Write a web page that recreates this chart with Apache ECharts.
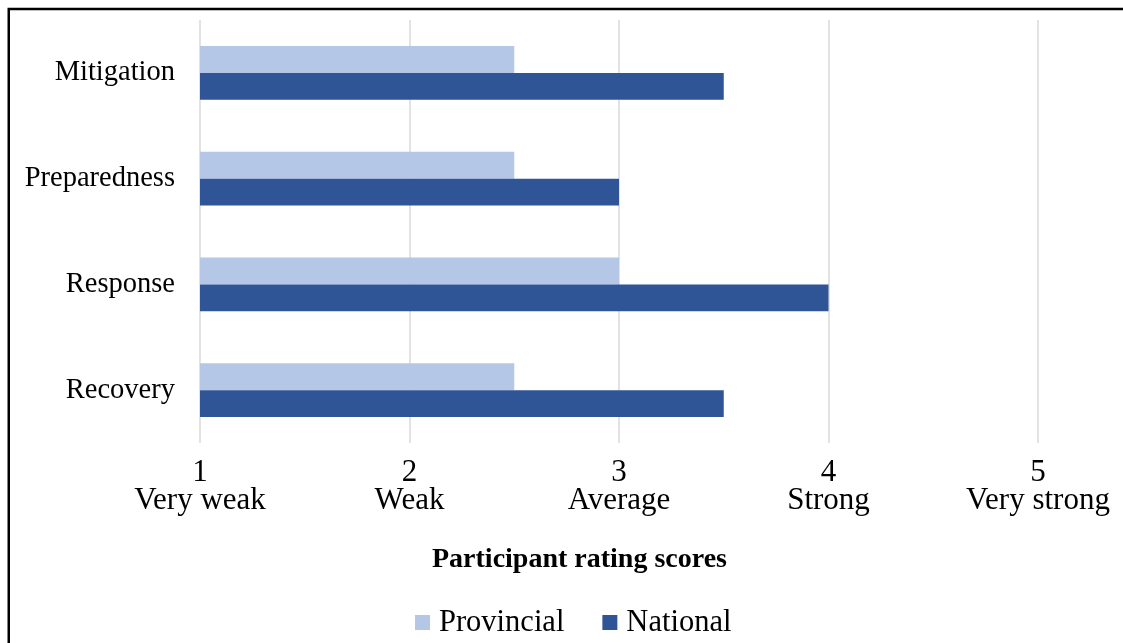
<!DOCTYPE html>
<html>
<head>
<meta charset="utf-8">
<script src="https://cdn.jsdelivr.net/npm/echarts@6/dist/echarts.min.js"></script>
<style>
  html, body { margin: 0; padding: 0; background: #fff; }
  #chart { width: 1123px; height: 643px; }
</style>
</head>
<body>
<div id="chart"></div>
<script>
// Disaster-management phases and participant ratings (1 = very weak … 5 = very strong)
const categories = ['Mitigation', 'Preparedness', 'Response', 'Recovery'];
const provincial = [2.5, 2.5, 3.0, 2.5];
const national = [3.5, 3.0, 4.0, 3.5];
const scoreValues = [1, 2, 3, 4, 5];
const scoreNames = ['Very weak', 'Weak', 'Average', 'Strong', 'Very strong'];
const axisTitle = 'Participant rating scores';

const serif = '"Liberation Serif", "Times New Roman", serif';

const chart = echarts.init(document.getElementById('chart'), null, { renderer: 'canvas' });

chart.setOption({
  backgroundColor: '#ffffff',
  animation: false,
  grid: { left: 200, right: 85, top: 20, bottom: 200, containLabel: false },
  xAxis: {
    type: 'value',
    min: 1,
    max: 5,
    interval: 1,
    axisLine: { show: false },
    axisTick: { show: false },
    splitLine: { show: true, lineStyle: { color: '#d9d9d9', width: 1.5 } },
    axisLabel: {
      margin: 16,
      color: '#000',
      fontFamily: serif,
      fontSize: 31,
      lineHeight: 28,
      align: 'center',
      formatter: function (v) {
        const i = scoreValues.indexOf(v);
        return i >= 0 ? v + '\n' + scoreNames[i] : '';
      }
    }
  },
  yAxis: {
    type: 'category',
    data: categories,
    inverse: true,
    axisLine: { show: false },
    axisTick: { show: false },
    axisLabel: { margin: 25, color: '#000', fontFamily: serif, fontSize: 28.5, lineHeight: 28, verticalAlign: 'middle' }
  },
  legend: {
    data: ['Provincial', 'National'],
    left: 410,
    top: 602,
    icon: 'rect',
    itemWidth: 15,
    itemHeight: 15,
    itemGap: 38,
    textStyle: { color: '#000', fontFamily: serif, fontSize: 30.5, padding: [0, 0, 0, 4] }
  },
  graphic: [
    {
      type: 'text',
      left: 432,
      top: 546,
      style: { text: axisTitle, fill: '#000', font: 'bold 28px ' + serif }
    },
    {
      type: 'rect',
      shape: { x: 8.75, y: 9, width: 1200, height: 700 },
      style: { fill: 'none', stroke: '#000', lineWidth: 2.5 },
      silent: true
    }
  ],
  series: [
    {
      name: 'Provincial',
      type: 'bar',
      data: provincial,
      barGap: '0%',
      barCategoryGap: '49%',
      itemStyle: { color: '#b4c7e7' }
    },
    {
      name: 'National',
      type: 'bar',
      data: national,
      barGap: '0%',
      barCategoryGap: '49%',
      itemStyle: { color: '#2f5597' }
    }
  ]
});
</script>
</body>
</html>
